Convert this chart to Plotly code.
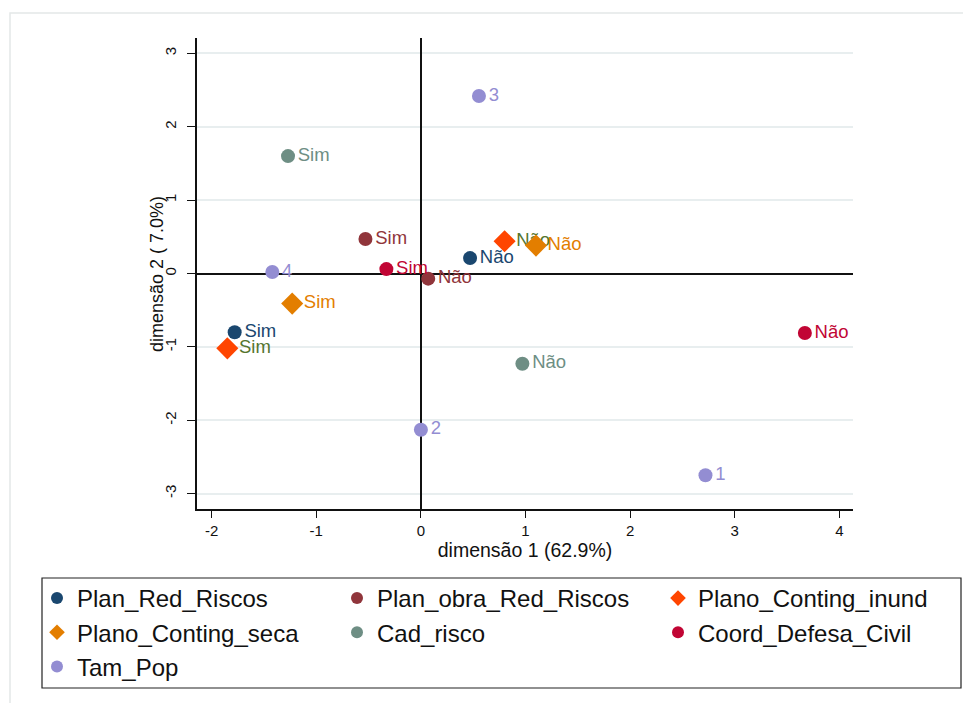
import plotly.graph_objects as go

# ---- data ----
series_names = ["Plan_Red_Riscos", "Plan_obra_Red_Riscos", "Plano_Conting_inund",
                "Plano_Conting_seca", "Cad_risco", "Coord_Defesa_Civil", "Tam_Pop"]

plan_red_x = [-1.78, 0.47]
plan_red_y = [-0.80, 0.21]
plan_red_lbl = ["Sim", "Não"]

plan_obra_x = [-0.53, 0.07]
plan_obra_y = [0.47, -0.07]
plan_obra_lbl = ["Sim", "Não"]

conting_inund_x = [-1.85, 0.80]
conting_inund_y = [-1.02, 0.44]
conting_inund_lbl = ["Sim", "Não"]

conting_seca_x = [-1.23, 1.10]
conting_seca_y = [-0.41, 0.38]
conting_seca_lbl = ["Sim", "Não"]

cad_risco_x = [-1.27, 0.97]
cad_risco_y = [1.60, -1.23]
cad_risco_lbl = ["Sim", "Não"]

coord_x = [-0.33, 3.67]
coord_y = [0.06, -0.81]
coord_lbl = ["Sim", "Não"]

tam_pop_x = [2.72, 0.0, 0.555, -1.42]
tam_pop_y = [-2.75, -2.13, 2.42, 0.02]
tam_pop_lbl = ["1", "2", "3", "4"]

x_ticks = [-2, -1, 0, 1, 2, 3, 4]
y_ticks = [-3, -2, -1, 0, 1, 2, 3]

x_title = "dimensão 1 (62.9%)"
y_title = "dimensão 2 ( 7.0%)"

# ---- styles ----
marker_colors = ["#1a476f", "#90353b", "#ff4500", "#e37e00", "#6e8e84", "#c10534", "#938dd2"]
label_colors = ["#1a476f", "#90353b", "#55752f", "#e37e00", "#6e8e84", "#c10534", "#938dd2"]
symbols = ["circle", "circle", "diamond", "diamond", "circle", "circle", "circle"]
sizes = [14, 14, 17, 17, 14, 14, 14]
# legend column for each series (3-column legend like the reference)
legend_ids = ["legend", "legend2", "legend3", "legend", "legend2", "legend3", "legend"]

xs = [plan_red_x, plan_obra_x, conting_inund_x, conting_seca_x, cad_risco_x, coord_x, tam_pop_x]
ys = [plan_red_y, plan_obra_y, conting_inund_y, conting_seca_y, cad_risco_y, coord_y, tam_pop_y]
lbls = [plan_red_lbl, plan_obra_lbl, conting_inund_lbl, conting_seca_lbl, cad_risco_lbl, coord_lbl, tam_pop_lbl]

FONT = "Liberation Sans, Arial, sans-serif"

fig = go.Figure()
for i, name in enumerate(series_names):
    fig.add_trace(go.Scatter(
        x=xs[i], y=ys[i], text=lbls[i], name=name,
        mode="markers+text", textposition="middle right",
        marker=dict(color=marker_colors[i], symbol=symbols[i], size=sizes[i], line=dict(width=0)),
        textfont=dict(color=label_colors[i], size=18.5, family=FONT),
        cliponaxis=False, legend=legend_ids[i], legendgroup=name,
    ))

W, H = 962, 695
L, R, T, B = 189, 845, 30, 501   # plot area in figure pixels
PW, PH = R - L, B - T

def px(x):
    return (x - L) / PW

def py(y):
    return (B - y) / PH

# light outer frame (graph region outline)
fig.add_shape(type="rect", xref="paper", yref="paper",
              x0=px(2), x1=px(1000), y0=py(740), y1=py(5),
              line=dict(color="#e4e8e8", width=1.5), fillcolor="rgba(0,0,0,0)", layer="below")
# legend frame
fig.add_shape(type="rect", xref="paper", yref="paper",
              x0=px(34), x1=px(953), y0=py(680), y1=py(570),
              line=dict(color="#222222", width=1.2), fillcolor="rgba(0,0,0,0)", layer="below")

# y axis title (vertical)
fig.add_annotation(text=y_title, xref="paper", yref="paper", x=px(149), y=py(266),
                   xanchor="center", yanchor="middle", textangle=-90, showarrow=False,
                   font=dict(size=18, family=FONT, color="#111111"))

leg_common = dict(
    orientation="v", xref="container", yref="container",
    xanchor="left", yanchor="top", borderwidth=0, bgcolor="rgba(0,0,0,0)",
    font=dict(size=24, family=FONT, color="#111111"),
    itemsizing="constant", tracegroupgap=0,
)
leg_top = 1 - 568 / H

fig.update_layout(
    width=W, height=H,
    margin=dict(l=L, r=W - R, t=T, b=H - B, autoexpand=False),
    paper_bgcolor="white", plot_bgcolor="white",
    font=dict(family=FONT, color="#111111"),
    showlegend=True,
    legend=dict(x=29 / W, y=leg_top, **leg_common),
    legend2=dict(x=329 / W, y=leg_top, **leg_common),
    legend3=dict(x=650 / W, y=leg_top, **leg_common),
)

fig.update_xaxes(
    range=[-2.14, 4.13], tickvals=x_ticks, ticktext=[str(v) for v in x_ticks],
    showgrid=False, zeroline=True, zerolinecolor="#111111", zerolinewidth=2,
    showline=True, linecolor="#111111", linewidth=1.5, mirror=False,
    ticks="outside", ticklen=7, tickcolor="#111111", tickwidth=1.2,
    tickfont=dict(size=15, family=FONT, color="#111111"),
    title=dict(text=x_title, font=dict(size=19.5, family=FONT, color="#111111"), standoff=3),
)
fig.update_yaxes(
    range=[-3.21, 3.21], tickvals=y_ticks, ticktext=[str(v) for v in y_ticks],
    tickangle=-90, ticklabelstandoff=5,
    showgrid=True, gridcolor="#e8eeef", gridwidth=1.5,
    zeroline=True, zerolinecolor="#111111", zerolinewidth=2,
    showline=True, linecolor="#111111", linewidth=1.5, mirror=False,
    ticks="outside", ticklen=8, tickcolor="#111111", tickwidth=1.2,
    tickfont=dict(size=15, family=FONT, color="#111111"),
)

fig.write_html("out.html")
